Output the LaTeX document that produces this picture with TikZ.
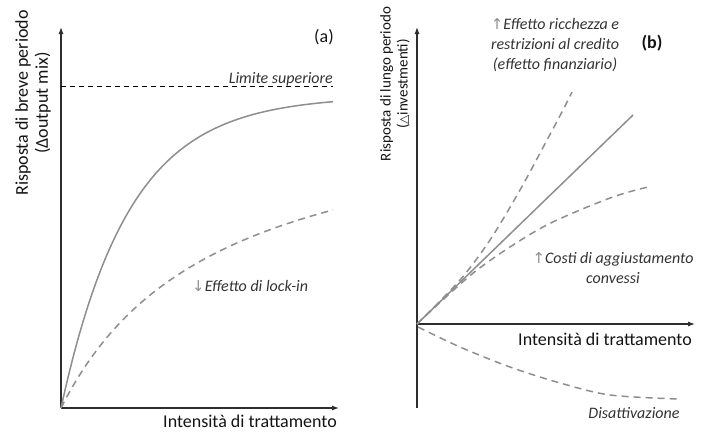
\documentclass[tikz,border=0pt]{standalone}
\usepackage{fontspec}
\setmainfont{Carlito}
\newfontfamily\symfont{DejaVu Sans}
\usetikzlibrary{arrows.meta}
\definecolor{axisgray}{HTML}{2E2E2E}
\definecolor{curvegray}{HTML}{8E8E8E}
\definecolor{txt}{HTML}{141414}
\definecolor{notegray}{HTML}{333333}
\tikzset{
  axis/.style={draw=axisgray, line width=1.1pt, -{Latex[length=7pt,width=5pt]}},
  solidcurve/.style={draw=curvegray, line width=1.5pt},
  dashcurve/.style={draw=curvegray, line width=1.5pt, dash pattern=on 7pt off 5pt},
  limitline/.style={draw=black, line width=0.9pt, dash pattern=on 5pt off 4pt},
  axlabel/.style={text=txt, font=\fontsize{18}{20}\selectfont, inner sep=0pt},
  ylabel/.style={text=txt, align=center, inner sep=0pt, rotate=90},
  note/.style={text=notegray, font=\fontsize{16}{20}\selectfont\itshape, inner sep=0pt},
  tag/.style={text=txt, font=\fontsize{18}{20}\selectfont, inner sep=0pt},
}
\newcommand{\uparr}{{\symfont\color{curvegray}\fontsize{15}{16}\selectfont↑}}
\newcommand{\dnarr}{{\symfont\color{curvegray}\fontsize{15}{16}\selectfont↓}}
\begin{document}
\begin{tikzpicture}[x=1pt,y=-1pt]
\useasboundingbox (0,0) rectangle (714,432);

% ---------- panel (a): short-run response ----------
\coordinate (oa) at (61,408);
\coordinate (ya) at (61,27);
\coordinate (xa) at (339,408);
\coordinate (la0) at (61,86);
\coordinate (la1) at (333,86);
\draw[axis] (oa) -- (ya);
\draw[axis] (oa) -- (xa);
\draw[limitline] (la0) -- (la1);
\draw[solidcurve] plot[domain=0:272,samples=80,smooth] ({61+\x},{408-312*(1-exp(-\x/68))});
\draw[dashcurve] plot[domain=0:272,samples=60,smooth] ({61+\x},{408-312.8*(\x/(\x+157.6))});

\node[note, anchor=base east] (lim) at (333,83) {Limite superiore};
\node[note, anchor=west] (lock) at (192,286) {\dnarr Effetto di lock-in};
\node[tag] (taga) at (324,37) {(a)};
\node[axlabel, anchor=base east] (xla) at (337,427) {Intensità di trattamento};
\node[ylabel, font=\fontsize{18}{20}\selectfont] (yla) at (33,103)
  {Risposta di breve periodo\\(Δoutput mix)};

% ---------- panel (b): long-run response ----------
\coordinate (ob) at (417,324);
\coordinate (yb) at (417,27);
\coordinate (yb0) at (417,408);
\coordinate (xb) at (695,324);
\coordinate (lin) at (633,115);
\draw[axis] (yb0) -- (yb);
\draw[axis] (ob) -- (xb);
\draw[solidcurve] (ob) -- (lin);
% wealth / credit constraints (convex)
\draw[dashcurve] plot[smooth] coordinates {(417,324) (460,280) (490,240) (520,190) (547,140) (563,110) (572,92)};
% convex adjustment costs (concave response)
\draw[dashcurve] plot[smooth] coordinates {(417,324) (477,270) (543,227) (610,198) (648,187)};
% deactivation
\draw[dashcurve] plot[smooth] coordinates {(418,327) (460,347) (510,367) (560,383) (610,395) (678,399)};

\node[note, align=center] (wealth) at (555,45)
  {\uparr Effetto ricchezza e\\restrizioni al credito\\(effetto finanziario)};
\node[note, align=center] (costs) at (613,268)
  {\uparr Costi di aggiustamento\\convessi};
\node[note] (deact) at (634,413) {Disattivazione};
\node[tag, font=\fontsize{18}{20}\selectfont\bfseries] (tagb) at (652,43) {(b)};
\node[axlabel, anchor=base east] (xlb) at (692,345) {Intensità di trattamento};
\node[ylabel, font=\fontsize{15}{17}\selectfont] (ylb) at (395,84)
  {Risposta di lungo periodo\\({\symfont\fontsize{12}{13}\selectfont △}investmenti)};
\end{tikzpicture}
\end{document}
